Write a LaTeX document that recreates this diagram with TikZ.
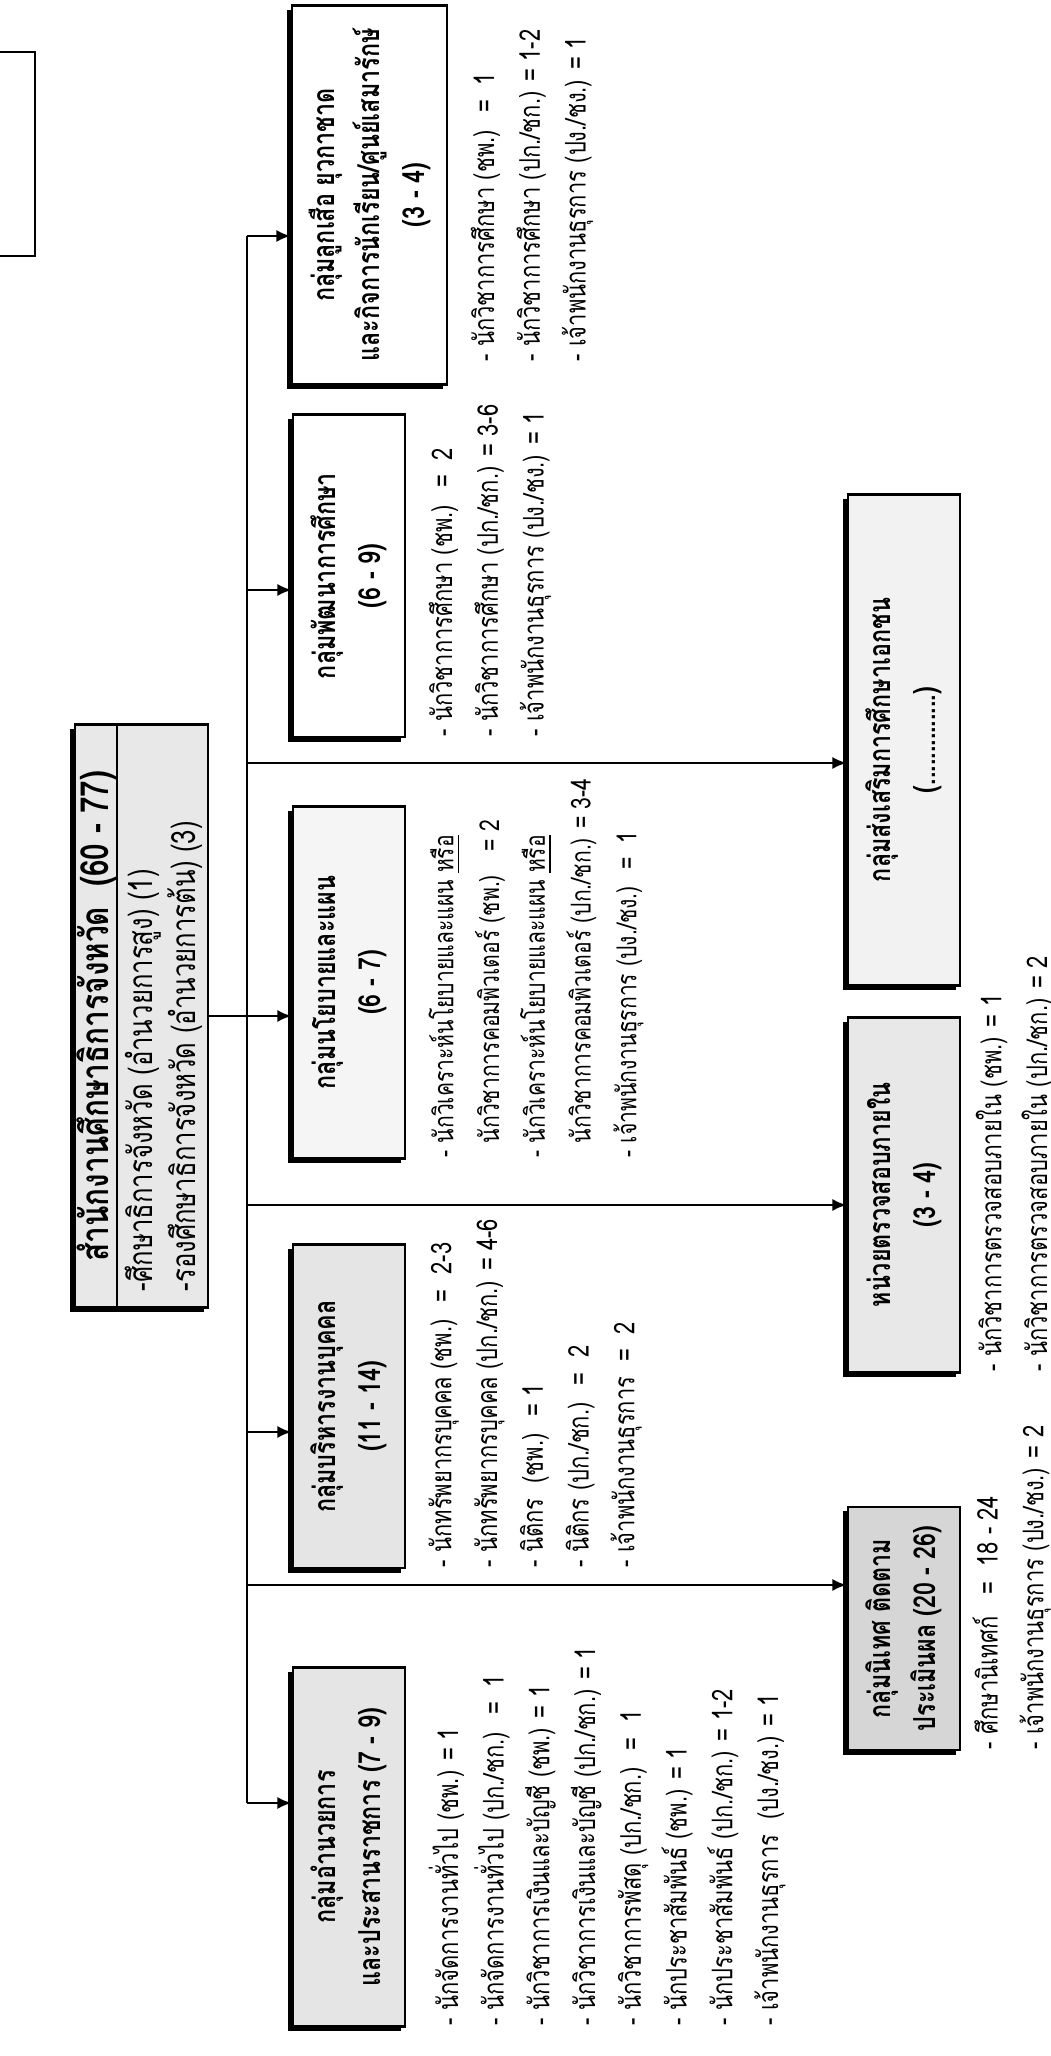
\documentclass[tikz,border=0pt]{standalone}
\usepackage{fontspec}
\newfontfamily\thai[Script=Thai,FakeStretch=0.77]{Loma}
\usetikzlibrary{arrows.meta,positioning,shadows}

\begin{document}
\begin{tikzpicture}[x=0.01cm,y=0.01cm,rotate=90,transform shape,
    font=\thai\fontsize{8.1}{13}\selectfont,
    grp/.style={draw,line width=0.8pt,align=center,inner sep=0pt,
      drop shadow={shadow xshift=-0.45mm,shadow yshift=-0.45mm,fill=black,opacity=1},
      font=\thai\bfseries\fontsize{8.6}{12.8}\selectfont},
    lst/.style={anchor=north west,align=left,inner sep=0pt},
    link/.style={line width=0.6pt},
    arr/.style={link,-{Latex[length=4pt,width=3.4pt]}}]
  \useasboundingbox (0,-1051) rectangle (2056,0);

  % provincial office
  \node[grp,fill=gray!18,minimum width=5.83cm,minimum height=1.33cm] (sec) at (1040,-141.5) {};
  \node[font=\thai\bfseries\fontsize{11}{12}\selectfont] (sech) at (1040,-97) {สำนักงานศึกษาธิการจังหวัด \ (60 - 77)};
  \draw[link] (sec.north west) ++(0,-43) -- ++(583,0);
  \node[lst,font=\thai\fontsize{9.5}{12.2}\selectfont] (secl) at (764,-124) {-ศึกษาธิการจังหวัด (อำนวยการสูง) (1)\\-รองศึกษาธิการจังหวัด (อำนวยการต้น) (3)};

  \node[draw,line width=0.8pt,minimum width=2.04cm,minimum height=0.95cm] (frame) at (1902,12.5) {};

  % groups, first row
  \node[grp,fill=white,minimum width=3.78cm,minimum height=1.55cm] (scout) at (1861,-369.5) {กลุ่มลูกเสือ ยุวกาชาด\\และกิจการนักเรียน/ศูนย์เสมารักษ์\\(3 - 4)};
  \node[grp,fill=white,minimum width=3.22cm,minimum height=1.12cm] (dev) at (1480,-349) {กลุ่มพัฒนาการศึกษา\\(6 - 9)};
  \node[grp,fill=gray!8,minimum width=3.51cm,minimum height=1.12cm] (plan) at (1073.5,-349) {กลุ่มนโยบายและแผน\\(6 - 7)};
  \node[grp,fill=gray!20,minimum width=3.23cm,minimum height=1.12cm] (hr) at (649.5,-349) {กลุ่มบริหารงานบุคคล\\(11 - 14)};
  \node[grp,fill=gray!20,minimum width=3.58cm,minimum height=1.12cm] (adm) at (209,-349) {กลุ่มอำนวยการ\\และประสานราชการ (7 - 9)};

  % groups, second row
  \node[grp,fill=gray!10,minimum width=4.9cm,minimum height=1.12cm] (priv) at (1316,-904) {กลุ่มส่งเสริมการศึกษาเอกชน\\(..............)};
  \node[grp,fill=gray!18,minimum width=3.54cm,minimum height=1.12cm] (audit) at (861,-904) {หน่วยตรวจสอบภายใน\\(3 - 4)};
  \node[grp,fill=gray!32,minimum width=2.43cm,minimum height=1.12cm] (sup) at (427.5,-904) {กลุ่มนิเทศ ติดตาม\\ประเมินผล (20 - 26)};

  % connectors
  \coordinate (tS) at (1820,-247);
  \coordinate (tA) at (253,-247);
  \coordinate (jD) at (1466,-247);
  \coordinate (jH) at (624,-247);
  \coordinate (jP) at (1293,-247);
  \coordinate (jU) at (851,-247);
  \coordinate (jN) at (471,-247);
  \draw[link] (tS) -- (tA);
  \draw[arr] (sec.south) -- (sec.south |- plan.north);
  \foreach \j/\b in {tS/scout,jD/dev,jH/hr,tA/adm,jP/priv,jU/audit,jN/sup}
    \draw[arr] (\j) -- (\j |- \b.north);

  % staff lists
  \node[lst] (scoutl) at (1694,-470) {- นักวิชาการศึกษา (ชพ.) \ = \ 1\\- นักวิชาการศึกษา (ปก./ชก.) = 1-2\\- เจ้าพนักงานธุรการ (ปง./ชง.) = 1};
  \node[lst] (devl) at (1319,-428) {- นักวิชาการศึกษา (ชพ.) \ = \ 2\\- นักวิชาการศึกษา (ปก./ชก.) = 3-6\\- เจ้าพนักงานธุรการ (ปง./ชง.) = 1};
  \node[lst,font=\thai\fontsize{7.8}{13}\selectfont] (planl) at (898,-428) {- นักวิเคราะห์นโยบายและแผน \underline{หรือ}\\\phantom{- }นักวิชาการคอมพิวเตอร์ (ชพ.) \ \ = 2\\- นักวิเคราะห์นโยบายและแผน \underline{หรือ}\\\phantom{- }นักวิชาการคอมพิวเตอร์ (ปก./ชก.) = 3-4\\- เจ้าพนักงานธุรการ (ปง./ชง.) \ = \ 1};
  \node[lst] (hrl) at (488,-428) {- นักทรัพยากรบุคคล (ชพ.) \ = \ 2-3\\- นักทรัพยากรบุคคล (ปก./ชก.) = 4-6\\- นิติกร \ (ชพ.) \ = 1\\- นิติกร (ปก./ชก.) \ = \ 2\\- เจ้าพนักงานธุรการ \ = \ 2};
  \node[lst] (adml) at (30,-428) {- นักจัดการงานทั่วไป (ชพ.) = 1\\- นักจัดการงานทั่วไป (ปก./ชก.) \ = \ 1\\- นักวิชาการเงินและบัญชี (ชพ.) = 1\\- นักวิชาการเงินและบัญชี (ปก./ชก.) = 1\\- นักวิชาการพัสดุ (ปก./ชก.) \ = \ 1\\- นักประชาสัมพันธ์ (ชพ.) = 1\\- นักประชาสัมพันธ์ (ปก./ชก.) = 1-2\\- เจ้าพนักงานธุรการ \ (ปง./ชง.) = 1};
  \node[lst] (auditl) at (684,-975) {- นักวิชาการตรวจสอบภายใน (ชพ.) = 1\\- นักวิชาการตรวจสอบภายใน (ปก./ชก.) = 2};
  \node[lst] (supl) at (306,-972) {- ศึกษานิเทศก์ \ \ = \ 18 - 24\\- เจ้าพนักงานธุรการ (ปง./ชง.) = 2};
\end{tikzpicture}
\end{document}
